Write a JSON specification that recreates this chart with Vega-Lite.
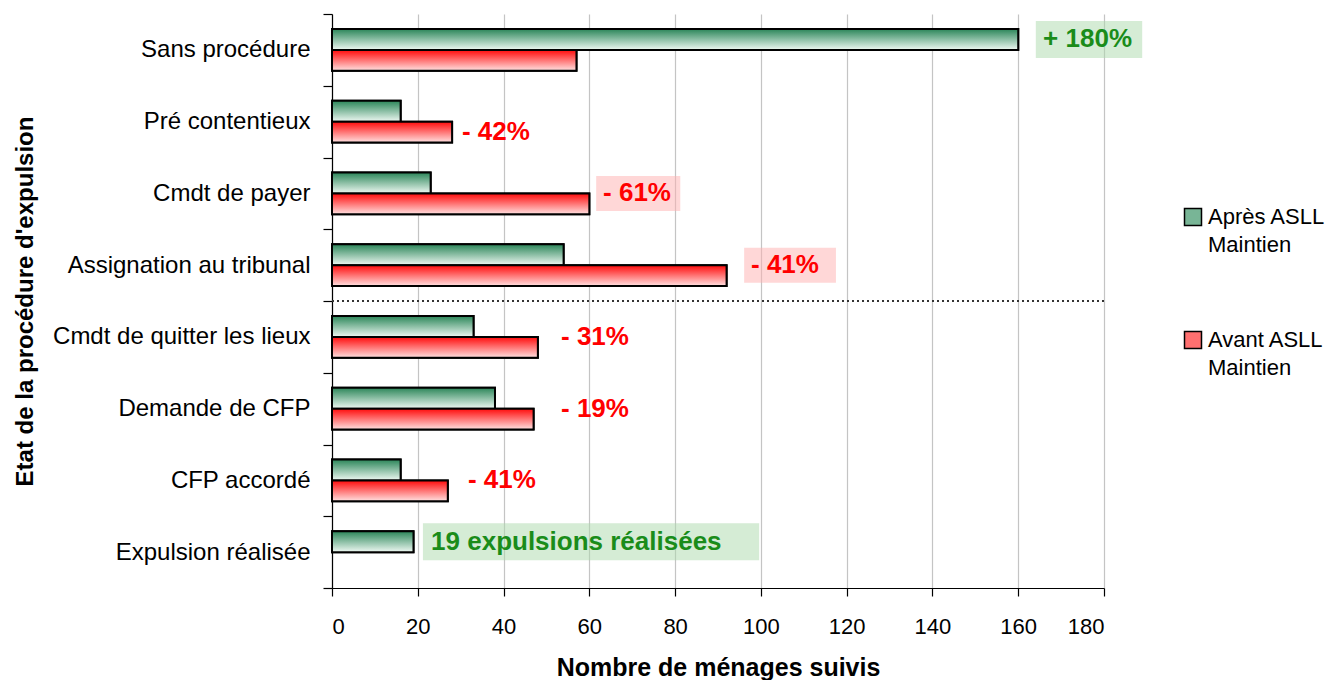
{
  "$schema": "https://vega.github.io/schema/vega-lite/v6.json",
  "width": 772,
  "height": 574,
  "autosize": {"type": "none"},
  "padding": {"left": 332, "top": 14, "right": 232, "bottom": 92},
  "background": "white",
  "config": {
    "view": {"stroke": null},
    "font": "Liberation Sans",
    "style": {"guide-label": {"lineHeight": 28}}
  },
  "datasets": {
    "bars": [
      {"category": "Sans procédure", "series": "Après ASLL Maintien", "value": 160},
      {"category": "Sans procédure", "series": "Avant ASLL Maintien", "value": 57},
      {"category": "Pré contentieux", "series": "Après ASLL Maintien", "value": 16},
      {"category": "Pré contentieux", "series": "Avant ASLL Maintien", "value": 28},
      {"category": "Cmdt de payer", "series": "Après ASLL Maintien", "value": 23},
      {"category": "Cmdt de payer", "series": "Avant ASLL Maintien", "value": 60},
      {"category": "Assignation au tribunal", "series": "Après ASLL Maintien", "value": 54},
      {"category": "Assignation au tribunal", "series": "Avant ASLL Maintien", "value": 92},
      {"category": "Cmdt de quitter les lieux", "series": "Après ASLL Maintien", "value": 33},
      {"category": "Cmdt de quitter les lieux", "series": "Avant ASLL Maintien", "value": 48},
      {"category": "Demande de CFP", "series": "Après ASLL Maintien", "value": 38},
      {"category": "Demande de CFP", "series": "Avant ASLL Maintien", "value": 47},
      {"category": "CFP accordé", "series": "Après ASLL Maintien", "value": 16},
      {"category": "CFP accordé", "series": "Avant ASLL Maintien", "value": 27},
      {"category": "Expulsion réalisée", "series": "Après ASLL Maintien", "value": 19}
    ],
    "notes": [
      {"category": "Sans procédure", "series": "Après ASLL Maintien", "label": "+ 180%", "kind": "gain", "text_x": 165.8, "box_start": 164.1, "box_end": 188.9},
      {"category": "Pré contentieux", "series": "Avant ASLL Maintien", "label": "- 42%", "kind": "loss", "text_x": 30.3},
      {"category": "Cmdt de payer", "series": "centre", "label": "- 61%", "kind": "loss", "text_x": 63.2, "box_start": 61.6, "box_end": 81.2},
      {"category": "Assignation au tribunal", "series": "centre", "label": "- 41%", "kind": "loss", "text_x": 97.7, "box_start": 96.1, "box_end": 117.5},
      {"category": "Cmdt de quitter les lieux", "series": "centre", "label": "- 31%", "kind": "loss", "text_x": 53.4},
      {"category": "Demande de CFP", "series": "centre", "label": "- 19%", "kind": "loss", "text_x": 53.4},
      {"category": "CFP accordé", "series": "centre", "label": "- 41%", "kind": "loss", "text_x": 31.7},
      {"category": "Expulsion réalisée", "series": "Après ASLL Maintien", "label": "19 expulsions réalisées", "kind": "gain", "text_x": 23.1, "box_start": 21.2, "box_end": 99.6}
    ],
    "divider": [{"category": "Cmdt de quitter les lieux"}]
  },
  "encoding": {
    "y": {
      "field": "category",
      "type": "nominal",
      "scale": {
        "domain": ["Sans procédure", "Pré contentieux", "Cmdt de payer", "Assignation au tribunal", "Cmdt de quitter les lieux", "Demande de CFP", "CFP accordé", "Expulsion réalisée"],
        "paddingInner": 0,
        "paddingOuter": 0
      },
      "axis": {
        "title": "Etat de la procédure d'expulsion",
        "titleFont": "Liberation Sans",
        "titleFontSize": 24,
        "titleFontWeight": "bold",
        "titleColor": "black",
        "titleX": -307,
        "titleBaseline": "middle",
        "labelFont": "Liberation Sans",
        "labelFontSize": 24,
        "labelColor": "black",
        "labelPadding": 13,
        "labelLimit": 400,
        "tickBand": "extent",
        "tickSize": 9,
        "tickColor": "black",
        "tickWidth": 1.2,
        "domainColor": "black",
        "domainWidth": 1.2,
        "grid": false
      }
    }
  },
  "layer": [
    {
      "data": {"name": "bars"},
      "mark": {"type": "bar", "stroke": "black", "strokeWidth": 2},
      "encoding": {
        "x": {
          "field": "value",
          "type": "quantitative",
          "scale": {"domain": [0, 180], "nice": false},
          "axis": {
            "values": [0, 20, 40, 60, 80, 100, 120, 140, 160, 180],
            "title": "Nombre de ménages suivis",
            "titleFont": "Liberation Sans",
            "titleFontSize": 25,
            "titleFontWeight": "bold",
            "titleColor": "black",
            "titleBaseline": "alphabetic",
            "titleY": 87,
            "labelFont": "Liberation Sans",
            "labelFontSize": 22,
            "labelColor": "black",
            "labelPadding": 20,
            "tickSize": 8,
            "tickColor": "black",
            "tickWidth": 1.2,
            "domainColor": "black",
            "domainWidth": 1.2,
            "grid": true,
            "gridColor": "#c4c4c4",
            "gridWidth": 1.2
          }
        },
        "yOffset": {
          "field": "series",
          "type": "nominal",
          "scale": {"domain": ["Après ASLL Maintien", "Avant ASLL Maintien"], "paddingInner": 0, "paddingOuter": 0.71}
        },
        "color": {
          "field": "series",
          "type": "nominal",
          "scale": {
            "domain": ["Après ASLL Maintien", "Avant ASLL Maintien"],
            "range": ["#78b596", "#ff7070"]
          },
          "legend": {
            "title": null,
            "orient": "none",
            "legendX": 850,
            "legendY": 192,
            "symbolType": "square",
            "symbolSize": 289,
            "symbolStrokeColor": "black",
            "symbolStrokeWidth": 1.5,
            "symbolOpacity": 1,
            "labelFont": "Liberation Sans",
            "labelFontSize": 22,
            "labelColor": "black",
            "labelLimit": 300,
            "labelOffset": 4,
            "rowPadding": 72,
            "labelExpr": "[slice(datum.label, 0, 10), slice(datum.label, 11)]"
          }
        }
      }
    },
    {
      "data": {"name": "bars"},
      "transform": [{"filter": "datum.series === 'Après ASLL Maintien'"}],
      "mark": {
        "type": "bar", "stroke": "black", "strokeWidth": 2,
        "fill": {"gradient": "linear", "x1": 0, "y1": 0, "x2": 0, "y2": 1, "stops": [{"offset": 0, "color": "#2a8558"}, {"offset": 1, "color": "#eef8f2"}]}
      },
      "encoding": {
        "x": {"field": "value", "type": "quantitative"},
        "yOffset": {"field": "series", "type": "nominal"}
      }
    },
    {
      "data": {"name": "bars"},
      "transform": [{"filter": "datum.series === 'Avant ASLL Maintien'"}],
      "mark": {
        "type": "bar", "stroke": "black", "strokeWidth": 2,
        "fill": {"gradient": "linear", "x1": 0, "y1": 0, "x2": 0, "y2": 1, "stops": [{"offset": 0, "color": "#ff0a0a"}, {"offset": 1, "color": "#ffe2e2"}]}
      },
      "encoding": {
        "x": {"field": "value", "type": "quantitative"},
        "yOffset": {"field": "series", "type": "nominal"}
      }
    },
    {
      "data": {"name": "divider"},
      "mark": {"type": "rule", "color": "#333333", "strokeWidth": 2, "strokeDash": [2, 3]},
      "encoding": {
        "y": {"field": "category", "type": "nominal", "bandPosition": 0}
      }
    },
    {
      "data": {"name": "notes"},
      "transform": [{"filter": "isValid(datum.box_start) && datum.series === 'centre'"}],
      "mark": {"type": "bar", "height": 35, "opacity": 0.5},
      "encoding": {
        "x": {"field": "box_start", "type": "quantitative"},
        "x2": {"field": "box_end"},
        "fill": {"condition": {"test": "datum.kind === 'gain'", "value": "#acd9ac"}, "value": "#ffb0b0"}
      }
    },
    {
      "data": {"name": "notes"},
      "transform": [{"filter": "isValid(datum.box_start) && datum.series !== 'centre'"}],
      "mark": {"type": "bar", "height": 37, "opacity": 0.5},
      "encoding": {
        "x": {"field": "box_start", "type": "quantitative"},
        "x2": {"field": "box_end"},
        "yOffset": {"field": "series", "type": "nominal"},
        "fill": {"condition": {"test": "datum.kind === 'gain'", "value": "#acd9ac"}, "value": "#ffb0b0"}
      }
    },
    {
      "data": {"name": "notes"},
      "transform": [{"filter": "datum.series === 'centre'"}],
      "mark": {"type": "text", "align": "left", "baseline": "middle", "font": "Liberation Sans", "fontSize": 26, "fontWeight": "bold"},
      "encoding": {
        "x": {"field": "text_x", "type": "quantitative"},
        "text": {"field": "label"},
        "fill": {"condition": {"test": "datum.kind === 'gain'", "value": "#1a8c1a"}, "value": "#ff0000"}
      }
    },
    {
      "data": {"name": "notes"},
      "transform": [{"filter": "datum.series !== 'centre'"}],
      "mark": {"type": "text", "align": "left", "baseline": "middle", "font": "Liberation Sans", "fontSize": 26, "fontWeight": "bold"},
      "encoding": {
        "x": {"field": "text_x", "type": "quantitative"},
        "yOffset": {"field": "series", "type": "nominal"},
        "text": {"field": "label"},
        "fill": {"condition": {"test": "datum.kind === 'gain'", "value": "#1a8c1a"}, "value": "#ff0000"}
      }
    }
  ]
}
